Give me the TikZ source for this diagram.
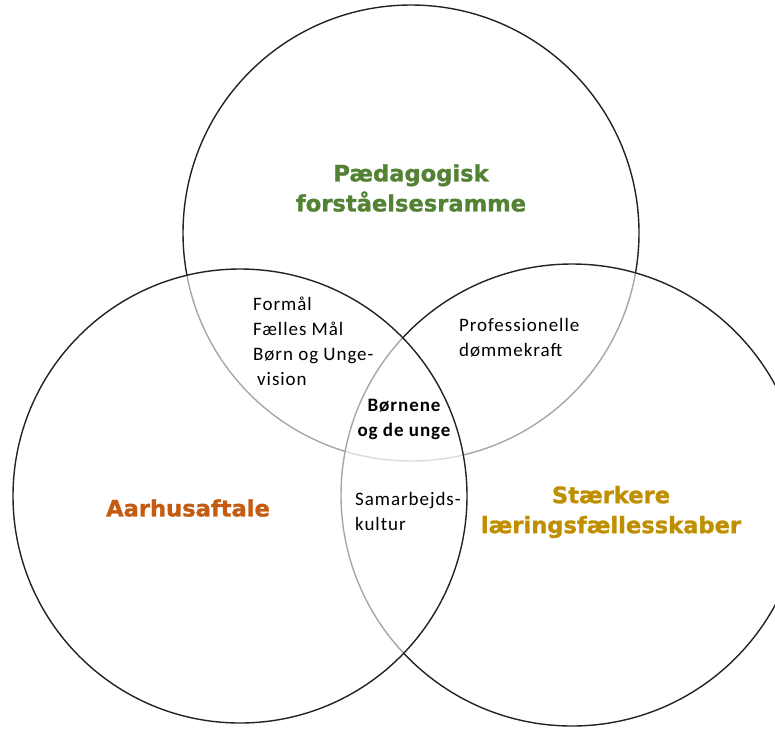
\documentclass[tikz,border=0pt]{standalone}
\usepackage{fontspec}
\setmainfont{Carlito}[LetterSpace=5]
\newfontfamily\headfont{DejaVu Sans}[BoldFeatures={FakeBold=1.2}]
\usetikzlibrary{positioning,calc}
\definecolor{pgreen}{RGB}{84,130,53}
\definecolor{aorange}{RGB}{197,90,17}
\definecolor{sgold}{RGB}{191,143,0}
\definecolor{ringgray}{RGB}{35,35,35}
\tikzset{
  % Venn ring: white wash dims the rings drawn before it
  ring/.style={draw=ringgray, circle, line width=1.4pt, fill=white, fill opacity=0.6,
               inner sep=0pt, outer sep=0pt},
  % Ring title: bold, coloured
  ringtitle/.style={font=\headfont\bfseries\fontsize{22.6}{30}\selectfont, align=center, inner sep=0pt},
  % Overlap notes
  lapnote/.style={font=\fontsize{19}{25}\selectfont, align=left, inner sep=0pt, anchor=west},
  corenote/.style={font=\bfseries\fontsize{19}{25}\selectfont, align=center, inner sep=0pt}
}
\begin{document}
\begin{tikzpicture}[x=1pt, y=-1pt]
\useasboundingbox (0,0) rectangle (775,728);
\clip (0,0) rectangle (775,728);

% Three rings (top, right, left)
\node[ring, minimum size=456pt] (top) at (411,233) {};
\node[ring, minimum size=462pt] (right) at (572,495) {};
\node[ring, minimum size=454pt] (left) at (240,496) {};

% Ring titles
\node[ringtitle, text=pgreen] (ptitle) at (411,188) {Pædagogisk\\forståelsesramme};
\node[ringtitle, text=aorange] (atitle) at (188,508) {Aarhusaftale};
\node[ringtitle, text=sgold] (stitle) at (611,512) {Stærkere\\læringsfællesskaber};

% Overlaps
\node[lapnote] (formaal) at (253,341) {Formål\\Fælles Mål\\Børn og Unge-\\\hspace{4pt}vision};
\node[lapnote] (profnote) at (459,338) {Professionelle\\dømmekraft};
\node[lapnote] (samnote) at (355,511) {Samarbejds-\\kultur};
\node[corenote] (core) at (404,419) {Børnene\\og de unge};

\end{tikzpicture}
\end{document}
